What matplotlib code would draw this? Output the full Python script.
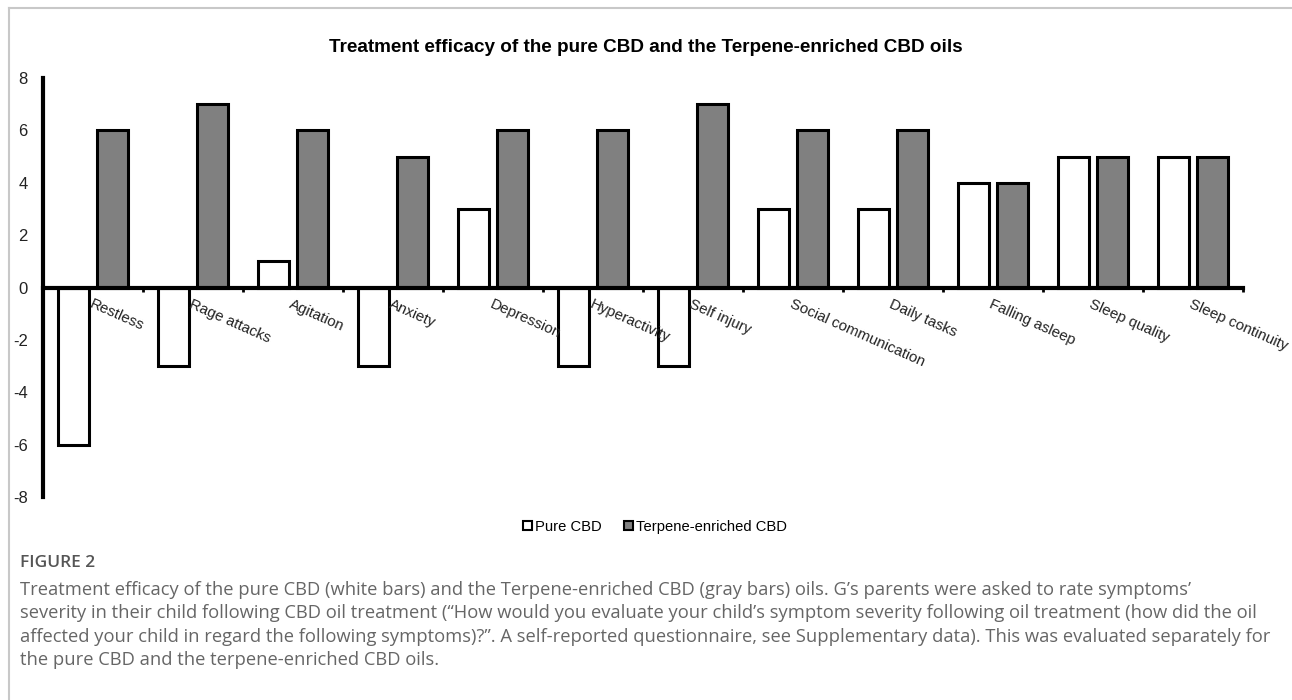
import matplotlib.pyplot as plt
import numpy as np
from matplotlib.patches import Patch
from matplotlib.lines import Line2D

symptoms = ['Restless', 'Rage attacks', 'Agitation', 'Anxiety', 'Depression',
            'Hyperactivity', 'Self injury', 'Social communication', 'Daily tasks',
            'Falling asleep', 'Sleep quality', 'Sleep continuity']
pure_cbd = [-6, -3, 1, -3, 3, -3, -3, 3, 3, 4, 5, 5]
terpene_cbd = [6, 7, 6, 5, 6, 6, 7, 6, 6, 4, 5, 5]
y_ticks = [-8, -6, -4, -2, 0, 2, 4, 6, 8]

caption_lines = [
    "Treatment efficacy of the pure CBD (white bars) and the Terpene-enriched CBD (gray bars) oils. G\u2019s parents were asked to rate symptoms\u2019",
    "severity in their child following CBD oil treatment (\u201cHow would you evaluate your child\u2019s symptom severity following oil treatment (how did the oil",
    "affected your child in regard the following symptoms)?\u201d. A self-reported questionnaire, see Supplementary data). This was evaluated separately for",
    "the pure CBD and the terpene-enriched CBD oils.",
]

plt.rcParams['font.family'] = ['Liberation Sans', 'DejaVu Sans']
plt.rcParams['axes.unicode_minus'] = False

W, H = 1292, 700
fig = plt.figure(figsize=(W / 100, H / 100), dpi=100)
ax = fig.add_axes([43 / W, 1 - 497 / H, 1200 / W, 419 / H])

x = np.arange(len(symptoms))
ax.bar(x - 0.195, pure_cbd, width=0.31, color='white', edgecolor='black', linewidth=2.2, zorder=3)
ax.bar(x + 0.195, terpene_cbd, width=0.31, color='#808080', edgecolor='black', linewidth=2.2, zorder=3)

ax.set_xlim(-0.5, len(symptoms) - 0.5)
ax.set_ylim(-8, 8)
ax.set_yticks(y_ticks)
ax.tick_params(axis='y', length=0, pad=11, labelsize=12, colors='#222222')
ax.set_xticks(np.arange(0.5, len(symptoms), 1))
ax.set_xticklabels([])
ax.tick_params(axis='x', direction='out', length=3, width=2, color='black')

for s in ['top', 'right']:
    ax.spines[s].set_visible(False)
ax.spines['left'].set_linewidth(3)
ax.spines['bottom'].set_linewidth(3)
ax.spines['bottom'].set_position(('data', 0))
ax.spines['bottom'].set_zorder(4)

for i, lab in enumerate(symptoms):
    ax.annotate(lab, xy=(i, 0), xytext=(0, -7), textcoords='offset points',
                rotation=-24, rotation_mode='anchor', ha='left', va='top',
                fontsize=10.8, color='#222222', zorder=5)

fig.text(0.5, 1 - 48 / H, 'Treatment efficacy of the pure CBD and the Terpene-enriched CBD oils',
         ha='center', va='center', fontsize=13.6, fontweight='bold')

handles = [Patch(facecolor='white', edgecolor='black', linewidth=1.5, label='Pure CBD'),
           Patch(facecolor='#808080', edgecolor='black', linewidth=1.5, label='Terpene-enriched CBD')]
fig.legend(handles=handles, loc='center', bbox_to_anchor=(655 / W, 1 - 527 / H), ncol=2,
           frameon=False, fontsize=10.6, handlelength=0.6, handleheight=0.6,
           handletextpad=0.2, columnspacing=1.5)

# figure border
fig.add_artist(Line2D([9 / W, 1], [1 - 8 / H, 1 - 8 / H], transform=fig.transFigure, color='#c8c8c8', lw=1.5))
fig.add_artist(Line2D([9 / W, 9 / W], [0, 1 - 8 / H], transform=fig.transFigure, color='#c8c8c8', lw=1.5))

fig.text(20 / W, 1 - 563 / H, 'FIGURE 2', ha='left', va='center', fontsize=12.5,
         family='Open Sans', fontweight='semibold', color='#555555')
for k, line in enumerate(caption_lines):
    fig.text(20 / W, 1 - (590 + 23.3 * k) / H, line, ha='left', va='center', fontsize=13.2,
             family='Open Sans', color='#666666')

fig.savefig('out.png', dpi=100)
